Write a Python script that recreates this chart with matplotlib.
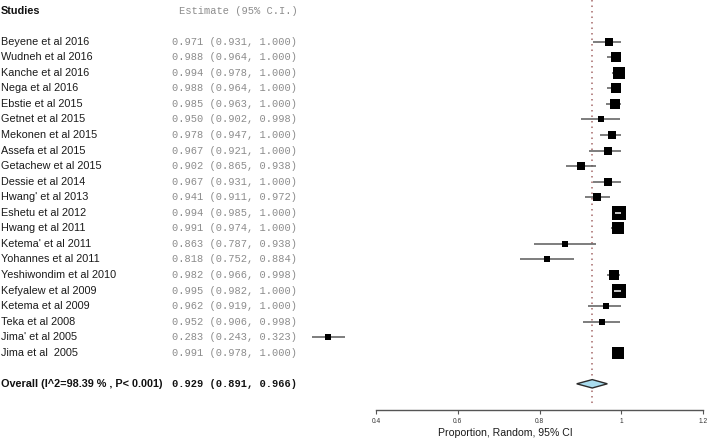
import matplotlib
matplotlib.use("Agg")
import matplotlib.pyplot as plt
from matplotlib.transforms import blended_transform_factory

studies = [
    "Beyene et al 2016", "Wudneh et al 2016", "Kanche et al 2016", "Nega et al 2016",
    "Ebstie et al 2015", "Getnet et al 2015", "Mekonen et al 2015", "Assefa et al 2015",
    "Getachew et al 2015", "Dessie et al 2014", "Hwang' et al 2013", "Eshetu et al 2012",
    "Hwang et al 2011", "Ketema' et al 2011", "Yohannes et al 2011", "Yeshiwondim et al 2010",
    "Kefyalew et al 2009", "Ketema et al 2009", "Teka et al 2008", "Jima' et al 2005",
    "Jima et al  2005",
]
estimates = [0.971, 0.988, 0.994, 0.988, 0.985, 0.950, 0.978, 0.967, 0.902, 0.967, 0.941,
             0.994, 0.991, 0.863, 0.818, 0.982, 0.995, 0.962, 0.952, 0.283, 0.991]
lower = [0.931, 0.964, 0.978, 0.964, 0.963, 0.902, 0.947, 0.921, 0.865, 0.931, 0.911,
         0.985, 0.974, 0.787, 0.752, 0.966, 0.982, 0.919, 0.906, 0.243, 0.978]
upper = [1.000, 1.000, 1.000, 1.000, 1.000, 0.998, 1.000, 1.000, 0.938, 1.000, 0.972,
         1.000, 1.000, 0.938, 0.884, 0.998, 1.000, 1.000, 0.998, 0.323, 1.000]
# relative study weights, read as box side length in pixels
box_sizes = [7, 9, 11, 9, 9, 6, 8, 7, 7, 8, 7, 13, 11, 5, 5, 10, 13, 6, 6, 6, 11]

overall_label = "Overall (I^2=98.39 % , P< 0.001)"
overall_est = 0.929
overall_lo = 0.891
overall_hi = 0.966

x_ticks = [0.4, 0.6, 0.8, 1.0, 1.2]
x_tick_labels = ["0.4", "0.6", "0.8", "1", "1.2"]

FIG_W, FIG_H = 709, 440
PX_PER_UNIT = 408.75
X0_PX = 376  # pixel position of 0.4
ROW0_PX = 41.7
ROW_STEP = 15.55

fig = plt.figure(figsize=(FIG_W / 100, FIG_H / 100), dpi=100)
ax = fig.add_axes([0, 0, 1, 1])
ax.set_xlim(0.4 - X0_PX / PX_PER_UNIT, 0.4 + (FIG_W - X0_PX) / PX_PER_UNIT)
ax.set_ylim((FIG_H - ROW0_PX) / ROW_STEP, -ROW0_PX / ROW_STEP)

header_row = -2
overall_row = len(studies) + 1
axis_row = (409.7 - ROW0_PX) / ROW_STEP

text_tf = blended_transform_factory(fig.transFigure, ax.transData)
name_x = 1 / FIG_W
est_x = 297.5 / FIG_W
sans = "Liberation Sans"
mono = "Liberation Mono"

ax.text(name_x, header_row, "Studies", transform=text_tf, family=sans, fontsize=7.8,
        fontweight="bold", va="center", ha="left", color="#111111")
ax.text(est_x, header_row, "Estimate (95% C.I.)", transform=text_tf, family=mono,
        fontsize=7.5, va="center", ha="right", color="#8c8c8c")

# reference line at the pooled estimate
ax.plot([overall_est, overall_est], [ax.get_ylim()[1], axis_row - 0.35],
        color="#a66a6a", linestyle=(0, (1.0, 2.6)), linewidth=1.1, zorder=1)

for row, (name, est, lo, hi, size) in enumerate(zip(studies, estimates, lower, upper, box_sizes)):
    ax.text(name_x, row, name, transform=text_tf, family=sans, fontsize=7.8,
            va="center", ha="left", color="#1a1a1a")
    ax.text(est_x, row, f"{est:.3f} ({lo:.3f}, {hi:.3f})", transform=text_tf, family=mono,
            fontsize=7.5, va="center", ha="right", color="#8c8c8c")
    ci_px = (hi - lo) * PX_PER_UNIT
    inside = ci_px < 0.7 * size
    ax.plot([lo, hi], [row, row], color="white" if inside else "#5a5a5a",
            linewidth=1.1, zorder=4 if inside else 2, solid_capstyle="butt")
    ax.plot(est, row, marker="s", color="black", markersize=size * 0.74,
            markeredgewidth=0, linestyle="none", zorder=3)

ax.text(name_x, overall_row, overall_label, transform=text_tf, family=sans, fontsize=7.8,
        fontweight="bold", va="center", ha="left", color="#111111")
ax.text(est_x, overall_row, f"{overall_est:.3f} ({overall_lo:.3f}, {overall_hi:.3f})",
        transform=text_tf, family=mono, fontsize=7.5, fontweight="bold", va="center",
        ha="right", color="#111111")

half_h = 4.2 / ROW_STEP
ax.fill([overall_lo, overall_est, overall_hi, overall_est],
        [overall_row, overall_row - half_h, overall_row, overall_row + half_h],
        facecolor="#a9dcee", edgecolor="#2b2b2b", linewidth=1.0, zorder=3)

for side in ["top", "left", "right"]:
    ax.spines[side].set_visible(False)
ax.spines["bottom"].set_position(("data", axis_row))
ax.spines["bottom"].set_bounds(x_ticks[0], x_ticks[-1])
ax.spines["bottom"].set_color("#555555")
ax.spines["bottom"].set_linewidth(1.0)
ax.set_yticks([])
ax.set_xticks(x_ticks)
ax.set_xticklabels(x_tick_labels, family=sans, fontsize=4.8, color="#333333")
ax.tick_params(axis="x", direction="out", length=3, width=0.8, color="#555555", pad=3)
ax.patch.set_visible(False)

fig.text(505.5 / FIG_W, 1 - 433 / FIG_H, "Proportion, Random, 95% CI", family=sans,
         fontsize=7.6, ha="center", va="center", color="#1a1a1a")

fig.savefig("out.png", dpi=100)
